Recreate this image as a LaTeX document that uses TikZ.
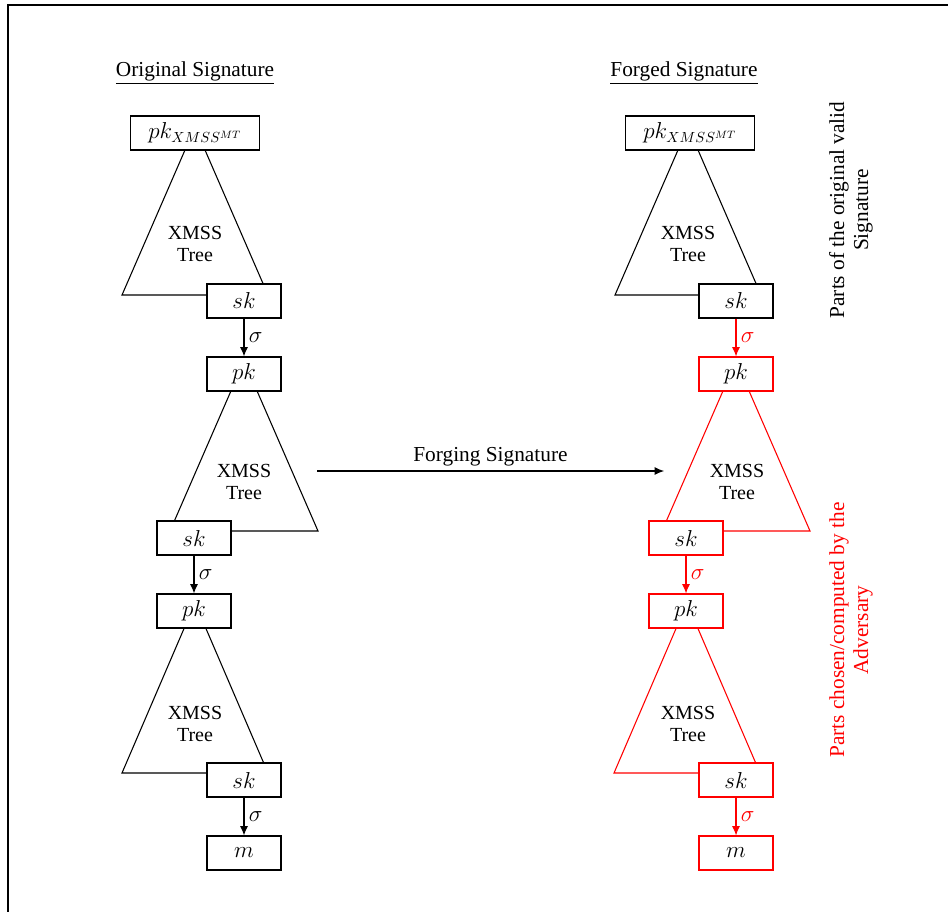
\documentclass[tikz,border=0pt]{standalone}
\usepackage{fontspec}
\setmainfont{Liberation Serif}
\usetikzlibrary{arrows,arrows.meta}

\begin{document}
\begin{tikzpicture}[x=0.75pt,y=-0.75pt,
  key/.style={draw, fill=white, line width=0.8pt, minimum width=55.5pt, minimum height=25.5pt, inner sep=0pt, font=\fontsize{16}{18}\selectfont},
  fkey/.style={key, draw=red},
  tree/.style={line width=0.8pt},
  ftree/.style={tree, red},
  txt/.style={font=\fontsize{16}{18}\selectfont, align=center},
  small/.style={font=\fontsize{15}{17}\selectfont, align=center},
  sig/.style={-{Latex[length=7pt,width=6pt]}, line width=0.8pt}]

        \useasboundingbox (0,0) rectangle (948,912);
        \draw[line width=1.4pt] (8,912) -- (8,5) -- (948,5);

        \node[txt] (otitle) at (195,73) {\underline{Original Signature}};
        \node[txt] (ftitle) at (684,73) {\underline{Forged Signature}};

        % original signature
        \draw[tree] (195,127) -- (122,295) -- (268,295) -- cycle;
        \draw[tree] (244,361) -- (170,531) -- (318,531) -- cycle;
        \draw[tree] (195,603) -- (122,773) -- (268,773) -- cycle;
        \node[small] (otree1) at (195,244) {XMSS\\Tree};
        \node[small] (otree2) at (244,482) {XMSS\\Tree};
        \node[small] (otree3) at (195,724) {XMSS\\Tree};

        \node[key, minimum width=97pt] (oroot) at (195,133) {$pk_{XMSS^{MT}}$};
        \node[key] (osk1) at (244,301) {$sk$};
        \node[key] (opk2) at (244,374) {$pk$};
        \node[key] (osk2) at (194,538) {$sk$};
        \node[key] (opk3) at (194,611) {$pk$};
        \node[key] (osk3) at (244,780) {$sk$};
        \node[key] (omsg) at (244,853) {$m$};

        \draw[sig] (osk1) -- node[right, txt] {$\sigma$} (opk2);
        \draw[sig] (osk2) -- node[right, txt] {$\sigma$} (opk3);
        \draw[sig] (osk3) -- node[right, txt] {$\sigma$} (omsg);

        % forged signature
        \draw[tree] (688,127) -- (615,295) -- (761,295) -- cycle;
        \draw[ftree] (736,361) -- (662,531) -- (810,531) -- cycle;
        \draw[ftree] (687,603) -- (614,773) -- (760,773) -- cycle;
        \node[small] (ftree1) at (688,244) {XMSS\\Tree};
        \node[small] (ftree2) at (737,482) {XMSS\\Tree};
        \node[small] (ftree3) at (688,724) {XMSS\\Tree};

        \node[key, minimum width=97pt] (froot) at (690,133) {$pk_{XMSS^{MT}}$};
        \node[key] (fsk1) at (736,301) {$sk$};
        \node[fkey] (fpk2) at (736,374) {$pk$};
        \node[fkey] (fsk2) at (686,538) {$sk$};
        \node[fkey] (fpk3) at (686,611) {$pk$};
        \node[fkey] (fsk3) at (736,780) {$sk$};
        \node[fkey] (fmsg) at (736,853) {$m$};

        \draw[sig, red] (fsk1) -- node[right, txt] {$\sigma$} (fpk2);
        \draw[sig, red] (fsk2) -- node[right, txt] {$\sigma$} (fpk3);
        \draw[sig, red] (fsk3) -- node[right, txt] {$\sigma$} (fmsg);

        \coordinate (fstart) at (317,471);
        \coordinate (fend) at (664,471);
        \draw[sig] (fstart) -- node[above, txt] {Forging Signature} (fend);

        \node[txt, rotate=90] (orignote) at (851,210) {Parts of the original valid\\Signature};
        \node[txt, rotate=90, red] (advnote) at (851,630) {Parts chosen/computed by the\\Adversary};

\end{tikzpicture}
\end{document}
